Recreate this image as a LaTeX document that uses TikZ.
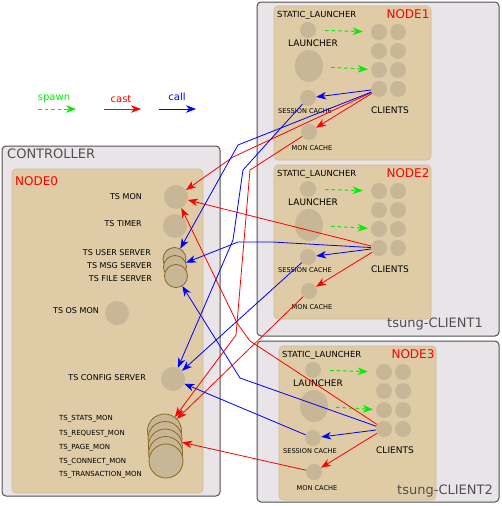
\documentclass[tikz,border=0pt]{standalone}
\usepackage{fontspec}
\setmainfont{DejaVu Sans}
\usetikzlibrary{arrows.meta,shapes.geometric}
\definecolor{outergray}{RGB}{232,228,232}
\definecolor{edgegray}{RGB}{80,80,80}
\definecolor{tanfill}{RGB}{223,203,166}
\definecolor{tanedge}{RGB}{206,188,150}
\definecolor{procfill}{RGB}{200,183,150}
\definecolor{procedge}{RGB}{139,104,30}
\definecolor{spawngreen}{RGB}{0,238,0}
\definecolor{castred}{RGB}{255,0,0}
\definecolor{callblue}{RGB}{0,0,255}
\begin{document}
\begin{tikzpicture}[x=1pt,y=-1pt,
  hostbox/.style={draw=edgegray,fill=outergray,line width=1pt,rounded corners=4pt},
  nodebox/.style={draw=tanedge,fill=tanfill,line width=0.6pt,rounded corners=4pt},
  proc/.style={circle,fill=procfill,inner sep=0pt,minimum size=16pt},
  bigproc/.style={circle,fill=procfill,inner sep=0pt,minimum size=24pt},
  stackproc/.style={circle,fill=procfill,draw=procedge,line width=0.8pt,inner sep=0pt,minimum size=#1},
  lbl/.style={inner sep=0pt,font=\fontsize{8}{9}\selectfont},
  tinylbl/.style={inner sep=0pt,font=\fontsize{6.6}{7}\selectfont},
  monlbl/.style={inner sep=0pt,font=\fontsize{7}{8}\selectfont},
  hosttitle/.style={inner sep=0pt,text=edgegray,font=\fontsize{13}{14}\selectfont},
  nodetitle/.style={inner sep=0pt,text=castred,font=\fontsize{12}{13}\selectfont},
  legendlbl/.style={inner sep=0pt,font=\fontsize{10}{11}\selectfont},
  tip/.tip={Stealth[length=10pt,width=7.5pt,inset=3pt]},
  spawn/.style={draw=spawngreen,line width=1pt,dash pattern=on 3.5pt off 3pt,-tip},
  cast/.style={draw=castred,line width=0.8pt,-tip},
  call/.style={draw=callblue,line width=0.8pt,-tip}]

\useasboundingbox (0,0) rectangle (501,506);

\node[legendlbl,text=spawngreen] (spawnl) at (54,99) {spawn};
\node[legendlbl,text=castred] (castl) at (121,99) {cast};
\node[legendlbl,text=callblue] (calll) at (177,97) {call};
\coordinate (sp0) at (38,109);
\coordinate (sp1) at (76,109);
\coordinate (ca0) at (104,109);
\coordinate (ca1) at (141,109);
\coordinate (cl0) at (159,109);
\coordinate (cl1) at (196,109);
\draw[spawn] (sp0) -- (sp1);
\draw[cast] (ca0) -- (ca1);
\draw[call] (cl0) -- (cl1);

\draw[hostbox] (2,146) rectangle (220,496);
\draw[nodebox] (12,169) rectangle (203,493);
\node[hosttitle,anchor=west] (ctrl) at (7,154) {CONTROLLER};
\node[nodetitle,anchor=west] (node0) at (15,181) {NODE0};

\node[bigproc] (tsmon) at (176,197) {};
\node[lbl,anchor=east] (tsmonl) at (142,197) {TS MON};
\node[bigproc] (tstimer) at (175,226) {};
\node[lbl,anchor=east] (tstimerl) at (142,224) {TS TIMER};
\node[stackproc=23pt] (tsuser) at (174.5,259) {};
\node[stackproc=23pt] (tsmsg) at (175,267) {};
\node[stackproc=23pt] (tsfile) at (176,276) {};
\node[lbl,anchor=east] (tsuserl) at (151,253) {TS USER SERVER};
\node[lbl,anchor=east] (tsmsgl) at (152,266) {TS MSG SERVER};
\node[lbl,anchor=east] (tsfilel) at (152,279) {TS FILE SERVER};
\node[bigproc] (tsosmon) at (117,313) {};
\node[lbl,anchor=east] (tsosmonl) at (99,311) {TS OS MON};
\node[bigproc] (tsconfig) at (173,379) {};
\node[lbl,anchor=east] (tsconfigl) at (146,378) {TS CONFIG SERVER};
\foreach \k/\x/\y in {1/164.5/431,2/165/438.5,3/165.3/446,4/165.6/453.5,5/166/461}
  \node[stackproc=34pt] (stats\k) at (\x,\y) {};
\foreach \k/\t/\y in {1/TS\_STATS\_MON/419,2/TS\_REQUEST\_MON/434,3/TS\_PAGE\_MON/448,4/TS\_CONNECT\_MON/462,5/TS\_TRANSACTION\_MON/475}
  \node[monlbl,anchor=west] (statsl\k) at (59,\y) {\t};

\draw[hostbox] (257,2) rectangle (499,336);
\draw[hostbox] (257,341) rectangle (499,502);

\foreach \i/\dx/\dy in {1/0/0,2/0/159,3/5/340}{
\begin{scope}[shift={(\dx,\dy)}]
\draw[nodebox] (274,6) rectangle (431,160);
\node[lbl,anchor=west,font=\fontsize{8.4}{9}\selectfont] (stl\i) at (277,15) {STATIC\_LAUNCHER};
\node[nodetitle] (nd\i) at (408,14) {NODE\i};
\node[proc] (sl\i) at (308,30) {};
\node[lbl,font=\fontsize{9}{10}\selectfont] (lnl\i) at (313,43) {LAUNCHER};
\node[ellipse,fill=procfill,inner sep=0pt,minimum width=28pt,minimum height=32pt] (ln\i) at (309,66) {};
\foreach \r/\y in {1/32,2/51,3/70,4/89}{
  \node[proc] (c\i\r1) at (379,\y) {};
  \node[proc] (c\i\r2) at (398,\y) {};
}
\node[lbl,font=\fontsize{9}{10}\selectfont] (cll\i) at (390,110) {CLIENTS};
\node[proc] (sc\i) at (308,98) {};
\node[tinylbl] (scl\i) at (305,111) {SESSION CACHE};
\node[proc] (mc\i) at (309,132) {};
\node[tinylbl] (mcl\i) at (312,148) {MON CACHE};
\draw[spawn,shorten <=9pt,shorten >=8pt] (sl\i) -- (c\i11);
\draw[spawn,shorten <=8pt,shorten >=3pt] (ln\i) -- (c\i31);
\draw[call] (c\i41) -- (sc\i);
\draw[cast] (c\i41) -- (mc\i);
\end{scope}}

\node[hosttitle] (host1) at (435,324) {tsung-CLIENT1};
\node[hosttitle] (host2) at (445,491) {tsung-CLIENT2};

\coordinate (r1) at (233,157);
\coordinate (r2a) at (250,170);
\coordinate (r2b) at (236,335);
\coordinate (r4a) at (250,341);
\coordinate (r4b) at (237,323);
\coordinate (b1) at (238,145);
\coordinate (b2a) at (243,170);
\coordinate (b2b) at (233,240);
\coordinate (b3a) at (272,242);
\coordinate (b3b) at (238,242);
\coordinate (b4) at (240,378);

\draw[cast] (c141) -- (r1) -- (tsmon);
\draw[cast] (mc1) -- (r2a) -- (r2b) -- (stats1);
\draw[cast] (c241) -- (tsmon);
\draw[cast] (c341) -- (r4a) -- (r4b) -- (tsmon);
\draw[cast] (mc2) -- (stats1);
\draw[cast] (mc3) -- (stats2);
\draw[call] (c141) -- (b1) -- (tsuser);
\draw[call] (sc1) -- (b2a) -- (b2b) -- (tsconfig);
\draw[call] (c241) -- (b3a) -- (b3b) -- (tsmsg);
\draw[call] (c341) -- (b4) -- (tsfile);
\draw[call] (sc2) -- (tsconfig);
\draw[call] (sc3) -- (tsconfig);

\end{tikzpicture}
\end{document}
